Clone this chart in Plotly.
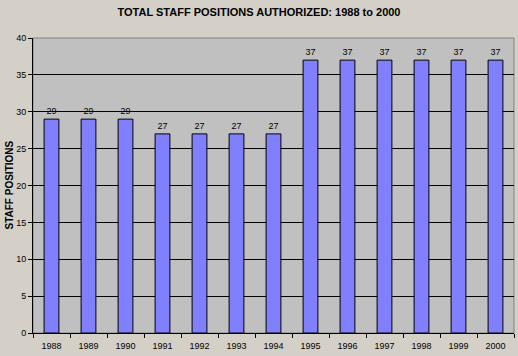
import plotly.graph_objects as go

years = ["1988", "1989", "1990", "1991", "1992", "1993", "1994",
         "1995", "1996", "1997", "1998", "1999", "2000"]
positions = [29, 29, 29, 27, 27, 27, 27, 37, 37, 37, 37, 37, 37]
y_ticks = [0, 5, 10, 15, 20, 25, 30, 35, 40]

FONT = "Liberation Sans, Arial"

fig = go.Figure(go.Bar(
    x=years, y=positions,
    marker=dict(color="#8080FF", line=dict(color="black", width=1)),
    text=[str(v) for v in positions], textposition="outside",
    textfont=dict(family=FONT, size=9, color="black"),
    cliponaxis=False,
))

fig.update_layout(
    width=518, height=356,
    margin=dict(l=33, r=4, t=38, b=23, autoexpand=False),
    paper_bgcolor="#D4D0C8", plot_bgcolor="#C0C0C0",
    bargap=0.6,
    showlegend=False,
    title=dict(text="<b>TOTAL STAFF POSITIONS AUTHORIZED: 1988 to 2000</b>",
               x=0.5, xanchor="center", y=1 - 12 / 356, yref="container",
               yanchor="middle",
               font=dict(family=FONT, size=11, color="black")),
    font=dict(family=FONT, size=9, color="black"),
)

fig.update_xaxes(
    type="category", showgrid=False, ticks="outside", tickson="boundaries",
    ticklen=4, tickcolor="black", showline=True, linecolor="black", linewidth=1,
    automargin=False, tickfont=dict(size=9), ticklabelstandoff=4,
)
fig.update_yaxes(
    range=[0, 40], tickvals=y_ticks, showgrid=True, gridcolor="black", gridwidth=1,
    ticks="outside", ticklen=4, tickcolor="black", showline=True,
    linecolor="black", linewidth=1, zeroline=False, automargin=False,
    tickfont=dict(size=9),
)

fig.add_annotation(text="<b>STAFF POSITIONS</b>", textangle=-90,
                   xref="paper", yref="paper", x=-33 / 481, y=0.5,
                   xshift=9, xanchor="center", yanchor="middle", showarrow=False,
                   font=dict(family=FONT, size=10, color="black"))

fig.add_shape(type="rect", xref="paper", yref="paper", x0=0, y0=0, x1=1, y1=1,
              line=dict(color="#808080", width=1), layer="below")

fig.write_html("out.html", config={"displayModeBar": False},
               post_script="document.body.style.margin='0';document.body.style.padding='0';")
